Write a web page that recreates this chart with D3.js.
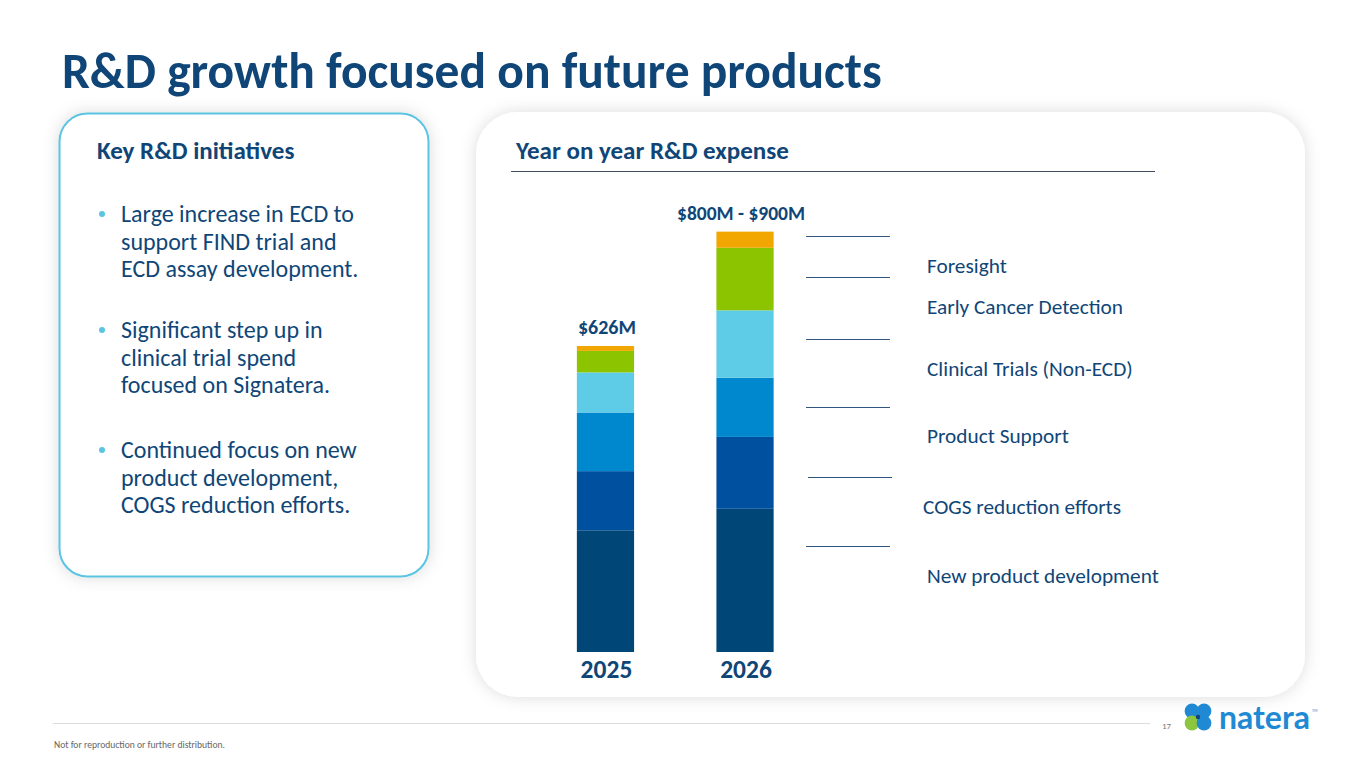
<!DOCTYPE html>
<html lang="en">
<head>
<meta charset="UTF-8">
<title>R&D growth focused on future products</title>
<script src="https://cdn.jsdelivr.net/npm/d3@7"></script>
<style>
  body { margin: 0; background: #fff; }
  svg { display: block; font-family: Carlito, Lato, "Open Sans", sans-serif; }
</style>
</head>
<body>
<svg width="1365" height="768" viewBox="0 0 1365 768"></svg>
<script>
    // data ($M)
    const years = ["2025", "2026"];
    const categories = ["New product development", "COGS reduction efforts", "Product Support",
                        "Clinical Trials (Non-ECD)", "Early Cancer Detection", "Foresight"];
    const spend2025 = [249, 121, 120, 82, 44, 10];
    const spend2026 = [293, 147, 121, 138, 128, 33];
    const totalLabels = ["$626M", "$800M - $900M"];
    const colors = ["#004677", "#0050a0", "#0088cf", "#5ecbe7", "#8cc400", "#f1a600"];

    const bullets = [
        ["Large increase in ECD to", "support FIND trial and", "ECD assay development."],
        ["Significant step up in", "clinical trial spend", "focused on Signatera."],
        ["Continued focus on new", "product development,", "COGS reduction efforts."]
    ];

    const navy = "#0f4677";
    const svg = d3.select("svg");

    const defs = svg.append("defs");
    const glow = defs.append("filter").attr("id", "glow")
        .attr("x", "-10%").attr("y", "-10%").attr("width", "120%").attr("height", "120%");
    glow.append("feDropShadow").attr("dx", 0).attr("dy", 0)
        .attr("stdDeviation", 8).attr("flood-color", "#000").attr("flood-opacity", 0.14);

    // title
    svg.append("text")
        .attr("x", 62).attr("y", 88)
        .attr("font-size", 49.5).attr("font-weight", 700).attr("fill", navy)
        .text("R&D growth focused on future products");

    // left panel
    svg.append("rect")
        .attr("x", 59.5).attr("y", 113.5).attr("width", 369).attr("height", 463)
        .attr("rx", 28).attr("fill", "#fff")
        .attr("stroke", "#5bc4e1").attr("stroke-width", 2)
        .attr("filter", "url(#glow)");

    svg.append("text")
        .attr("x", 97).attr("y", 159)
        .attr("font-size", 25).attr("font-weight", 700).attr("fill", navy)
        .text("Key R&D initiatives");

    const bulletTop = [222, 338, 458];
    bullets.forEach((lines, i) => {
        svg.append("circle")
            .attr("cx", 102).attr("cy", bulletTop[i] - 8).attr("r", 3)
            .attr("fill", "#5bc4e1");
        svg.append("text")
            .attr("x", 121).attr("y", bulletTop[i])
            .attr("font-size", 24).attr("fill", navy)
            .selectAll("tspan").data(lines).join("tspan")
            .attr("x", 121).attr("dy", (d, j) => j ? 27.7 : 0)
            .text(d => d);
    });

    // right panel
    svg.append("rect")
        .attr("x", 476).attr("y", 112).attr("width", 829).attr("height", 585)
        .attr("rx", 42).attr("fill", "#fff")
        .attr("filter", "url(#glow)");

    svg.append("text")
        .attr("x", 516).attr("y", 159)
        .attr("font-size", 25).attr("font-weight", 700).attr("fill", navy)
        .text("Year on year R&D expense");
    svg.append("line")
        .attr("x1", 511).attr("x2", 1155).attr("y1", 171.5).attr("y2", 171.5)
        .attr("stroke", "#3f4f5f").attr("stroke-width", 1.2);

    // stacked bars
    const x = d3.scaleBand().domain(years).range([535, 815.5])
        .paddingInner(0.59).paddingOuter(0.3);
    const y = d3.scaleLinear().domain([0, 1000]).range([652, 163.2]);

    const rows = years.map((yr, i) => {
        const vals = i === 0 ? spend2025 : spend2026;
        const r = { year: yr };
        categories.forEach((c, k) => r[c] = vals[k]);
        return r;
    });
    const stack = d3.stack().keys(categories)(rows);

    svg.append("g").selectAll("g").data(stack).join("g")
        .attr("fill", (d, i) => colors[i])
        .selectAll("rect").data(d => d).join("rect")
        .attr("x", d => x(d.data.year))
        .attr("width", x.bandwidth())
        .attr("y", d => y(d[1]))
        .attr("height", d => y(d[0]) - y(d[1]));

    const topLayer = stack[stack.length - 1];
    const labelSize = [20, 19.5];
    const labelShift = [1.5, -4];
    svg.append("g").selectAll("text").data(years).join("text")
        .attr("x", (d, i) => x(d) + x.bandwidth() / 2 + labelShift[i])
        .attr("y", (d, i) => y(topLayer[i][1]) - 12)
        .attr("text-anchor", "middle")
        .attr("font-size", (d, i) => labelSize[i]).attr("font-weight", 700).attr("fill", navy)
        .text((d, i) => totalLabels[i]);

    svg.append("g").selectAll("text").data(years).join("text")
        .attr("x", d => x(d) + x.bandwidth() / 2 + 1)
        .attr("y", 678)
        .attr("text-anchor", "middle")
        .attr("font-size", 25.5).attr("font-weight", 700).attr("fill", navy)
        .text(d => d);

    // legend: separator lines and labels, top-down
    const sepY = [236.5, 277.5, 339.5, 407.5, 477.5, 546.5];
    const sepX = [806, 806, 806, 806, 808, 806];
    svg.append("g").selectAll("line").data(sepY).join("line")
        .attr("x1", (d, i) => sepX[i]).attr("x2", (d, i) => sepX[i] + 84)
        .attr("y1", d => d).attr("y2", d => d)
        .attr("stroke", "#2f557e").attr("stroke-width", 1.1);

    const legendY = [273, 314, 376, 443, 514, 583];
    const legendX = [927, 927, 927, 927, 923, 927];
    const legendNames = categories.slice().reverse();
    svg.append("g").selectAll("text").data(legendNames).join("text")
        .attr("x", (d, i) => legendX[i]).attr("y", (d, i) => legendY[i])
        .attr("font-size", 21.3).attr("fill", navy)
        .text(d => d);

    // footer
    svg.append("line")
        .attr("x1", 53).attr("x2", 1150).attr("y1", 723.5).attr("y2", 723.5)
        .attr("stroke", "#dcdcdc").attr("stroke-width", 1);
    svg.append("text")
        .attr("x", 1162).attr("y", 729)
        .attr("font-size", 9).attr("fill", "#777")
        .text("17");
    svg.append("text")
        .attr("x", 54).attr("y", 748)
        .attr("font-size", 9.6).attr("fill", "#666")
        .text("Not for reproduction or further distribution.");

    // logo
    const logo = svg.append("g").attr("transform", "translate(1198,717)");
    const lobes = [[-6, -6, "#1f8ad3"], [6, -6, "#1f8ad3"], [-6, 6, "#8cc63e"], [6, 6, "#1f8ad3"]];
    logo.selectAll("circle").data(lobes).join("circle")
        .attr("cx", d => d[0]).attr("cy", d => d[1]).attr("r", 7.4)
        .attr("fill", d => d[2]);
    logo.append("circle").attr("r", 2.2).attr("fill", "#0f4677");
    svg.append("text")
        .attr("x", 1219).attr("y", 729)
        .attr("font-size", 32).attr("font-family", "Lato, sans-serif").attr("font-weight", 700)
        .attr("fill", "#1f8ad3")
        .text("natera");
    svg.append("text")
        .attr("x", 1312).attr("y", 712)
        .attr("font-size", 4).attr("fill", "#1f8ad3")
        .text("TM");
</script>
</body>
</html>
